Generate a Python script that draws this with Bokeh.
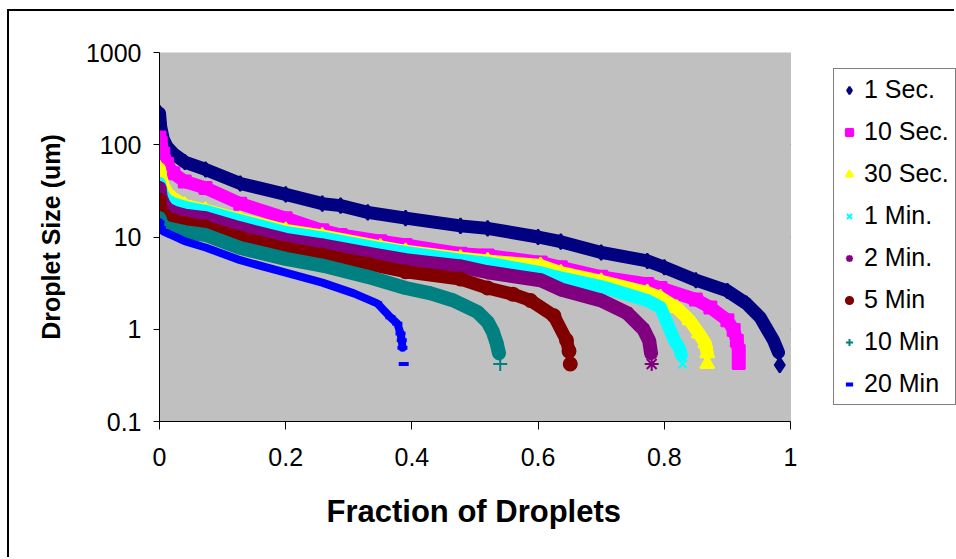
from bokeh.plotting import figure
from bokeh.models import (FixedTicker, CustomJSTickFormatter, Legend, LegendItem, Range1d,
                          BoxAnnotation, Title)
from bokeh.embed import file_html
from bokeh.resources import INLINE

# ---- data ----
labels = ["1 Sec.", "10 Sec.", "30 Sec.", "1 Min.", "2 Min.", "5 Min", "10 Min", "20 Min"]

x_1sec = [0, 0.002, 0.006, 0.012, 0.022, 0.04, 0.073, 0.128, 0.2, 0.258, 0.287, 0.33, 0.39,
          0.477, 0.52, 0.6, 0.636, 0.7, 0.773, 0.8, 0.85, 0.9, 0.93, 0.952, 0.973, 0.981, 0.983]
y_1sec = [220, 155, 115, 95, 80, 65, 54, 38, 29, 23, 21.9, 18.5, 16,
          13.2, 12.4, 10, 8.9, 6.8, 5.5, 4.7, 3.4, 2.6, 1.9, 1.34, 0.76, 0.56, 0.41]

x_10sec = [0, 0.002, 0.006, 0.012, 0.022, 0.04, 0.073, 0.128, 0.2, 0.258, 0.287, 0.35, 0.39,
           0.477, 0.52, 0.604, 0.636, 0.7, 0.773, 0.794, 0.85, 0.873, 0.9, 0.91, 0.915, 0.918, 0.918]
y_10sec = [120, 105, 80, 62, 49, 40, 34, 23, 16, 11.8, 10.5, 9.0, 8.2,
           6.6, 6.3, 5.3, 4.7, 3.7, 3.1, 2.8, 2.1, 1.72, 1.25, 0.98, 0.75, 0.58, 0.43]

x_30sec = [0, 0.002, 0.006, 0.012, 0.022, 0.04, 0.073, 0.128, 0.2, 0.258, 0.35, 0.39,
           0.477, 0.52, 0.604, 0.636, 0.7, 0.773, 0.794, 0.82, 0.84, 0.855, 0.865, 0.868, 0.868]
y_30sec = [55, 45, 36, 30, 26, 22, 19.5, 15.5, 11.8, 10.3, 7.8, 7.0,
           5.9, 5.5, 4.9, 4.1, 3.3, 2.5, 2.2, 1.7, 1.25, 0.9, 0.7, 0.55, 0.42]

x_1min = [0, 0.002, 0.006, 0.012, 0.022, 0.04, 0.073, 0.128, 0.2, 0.258, 0.35, 0.39,
          0.477, 0.52, 0.604, 0.636, 0.7, 0.773, 0.794, 0.805, 0.816, 0.824, 0.827, 0.829]
y_1min = [38, 33, 28, 25, 23, 21, 19, 15, 11.2, 9.8, 7.5, 6.8,
          5.6, 5.2, 4.1, 3.6, 2.9, 2.05, 1.72, 1.15, 0.76, 0.62, 0.53, 0.42]

x_2min = [0, 0.002, 0.006, 0.012, 0.022, 0.04, 0.073, 0.128, 0.2, 0.258, 0.33, 0.39,
          0.477, 0.52, 0.604, 0.636, 0.7, 0.741, 0.767, 0.776, 0.779, 0.78]
y_2min = [34, 27, 23, 20, 18.5, 17, 16, 12.4, 9.3, 8.1, 6.6, 5.6,
          4.8, 4.15, 3.4, 2.7, 2.05, 1.5, 1.0, 0.75, 0.55, 0.42]

x_5min = [0, 0.002, 0.006, 0.012, 0.022, 0.04, 0.073, 0.128, 0.2, 0.258, 0.33, 0.39,
          0.477, 0.52, 0.56, 0.588, 0.625, 0.645, 0.649, 0.651]
y_5min = [25, 20, 17.5, 16, 15, 14, 12.8, 9.8, 7.5, 6.4, 5.1, 4.2,
          3.5, 2.8, 2.4, 2.05, 1.4, 0.76, 0.58, 0.42]

x_10min = [0, 0.002, 0.006, 0.012, 0.022, 0.04, 0.073, 0.128, 0.2, 0.258, 0.33, 0.39,
           0.43, 0.466, 0.504, 0.52, 0.528, 0.534, 0.538, 0.54]
y_10min = [16, 14.5, 13, 12.5, 12, 11.3, 10.5, 7.6, 5.8, 4.9, 3.7, 2.8,
           2.45, 2.05, 1.54, 1.2, 0.95, 0.72, 0.55, 0.42]

x_20min = [0, 0.002, 0.006, 0.012, 0.02, 0.04, 0.073, 0.128, 0.2, 0.258, 0.308, 0.345,
           0.366, 0.377, 0.382, 0.384, 0.385, 0.387]
y_20min = [14.4, 12.5, 11.5, 11, 10.4, 9, 7.7, 5.6, 4.1, 3.2, 2.45, 1.91,
           1.35, 1.15, 0.9, 0.76, 0.63, 0.42]

x_ticks = [0, 0.2, 0.4, 0.6, 0.8, 1]
y_ticks = [0.1, 1, 10, 100, 1000]
y_grid = [1, 10, 100]

series_x = [x_1sec, x_10sec, x_30sec, x_1min, x_2min, x_5min, x_10min, x_20min]
series_y = [y_1sec, y_10sec, y_30sec, y_1min, y_2min, y_5min, y_10min, y_20min]
colors = ["#000080", "#FF00FF", "#FFFF00", "#00FFFF", "#800080", "#800000", "#008080", "#0000FF"]
markers = ["diamond", "square", "triangle", "x", "asterisk", "circle", "cross", "dash"]
msizes = [15, 12, 14, 12, 14, 13, 14, 10]
lwidths = [13, 13, 13, 13, 14, 13, 14, 8]

FONT = "Liberation Sans"
OX, OY = 9, 11   # offset of the chart-area border inside the window
XMAX = (956 - 159) / 631.0   # frame runs to the right edge; plot area is 0..1

p = figure(width=956 - OX, height=559 - OY, y_axis_type="log",
           x_range=Range1d(0, XMAX), y_range=Range1d(0.1, 1000),
           output_backend="svg", toolbar_location=None,
           min_border_left=159 - OX, min_border_right=0,
           min_border_top=52 - OY, min_border_bottom=138)
p.styles = {"margin-left": "7px", "margin-top": "9px",
            "border-left": "2px solid black", "border-top": "2px solid black"}
p.background_fill_color = "white"
p.border_fill_color = "white"
p.outline_line_color = None

# gray plot area (0..1 in x)
p.add_layout(BoxAnnotation(left=0, right=1, bottom=0.1, top=1000,
                           fill_color="#C0C0C0", fill_alpha=1,
                           line_color="#808080", line_width=1, level="underlay"))

# grid lines
p.xgrid.visible = False
p.ygrid.visible = False
p.segment(x0=[0] * len(y_grid), x1=[1] * len(y_grid), y0=y_grid, y1=y_grid,
          line_color="black", line_width=1, level="underlay")

# axes
p.xaxis.ticker = FixedTicker(ticks=x_ticks, minor_ticks=[])
p.yaxis.ticker = FixedTicker(ticks=y_ticks, minor_ticks=[])
p.xaxis.bounds = (0, 1)
p.xaxis.formatter = CustomJSTickFormatter(code="return (Math.round(tick*10)/10).toString();")
p.yaxis.formatter = CustomJSTickFormatter(code="return tick >= 1 ? tick.toFixed(0) : tick.toFixed(1);")
for ax in (p.xaxis, p.yaxis):
    ax.axis_line_color = "black"
    ax.axis_line_width = 1
    ax.major_tick_line_color = "black"
    ax.major_tick_in = 0
    ax.minor_tick_line_color = None
    ax.major_label_text_font = FONT
    ax.major_label_text_font_size = "25px"
    ax.major_label_text_color = "black"
    ax.axis_label_text_font = FONT
    ax.axis_label_text_font_style = "bold"
    ax.axis_label_text_color = "black"
p.xaxis.major_tick_out = 8
p.yaxis.major_tick_out = 6
p.xaxis.major_label_standoff = 18
p.yaxis.major_label_standoff = 12
p.yaxis.axis_label = "Droplet Size (um)"
p.yaxis.axis_label_text_font_size = "25px"
p.yaxis.axis_label_standoff = 18

# x-axis title, centred under the 0..1 plot area
xtitle = Title(text="Fraction of Droplets", align="left", offset=167,
               text_font=FONT, text_font_size="31px", text_font_style="bold",
               text_color="black", standoff=47)
p.add_layout(xtitle, "below")

items = []
for lab, xs, ys, c, m, ms, lw in zip(labels, series_x, series_y, colors, markers, msizes, lwidths):
    p.line(xs[:-1], ys[:-1], line_color=c, line_width=lw, line_join="round", line_cap="round")
    r = p.scatter(xs, ys, marker=m, size=ms, fill_color=c, line_color=c,
                  line_width=(4 if m == "dash" else 2))
    items.append(LegendItem(label=lab, renderers=[r]))

legend = Legend(items=items, location=(674, 16))
legend.label_text_font = FONT
legend.label_text_font_size = "25px"
legend.label_text_color = "black"
legend.glyph_width = 18
legend.glyph_height = 26
legend.label_height = 26
legend.label_standoff = 6
legend.spacing = 13
legend.padding = 6
legend.margin = 0
legend.border_line_color = "black"
legend.border_line_width = 1
legend.background_fill_color = "white"
legend.background_fill_alpha = 1
p.add_layout(legend, "center")

open("out.html", "w").write(file_html(p, INLINE))
